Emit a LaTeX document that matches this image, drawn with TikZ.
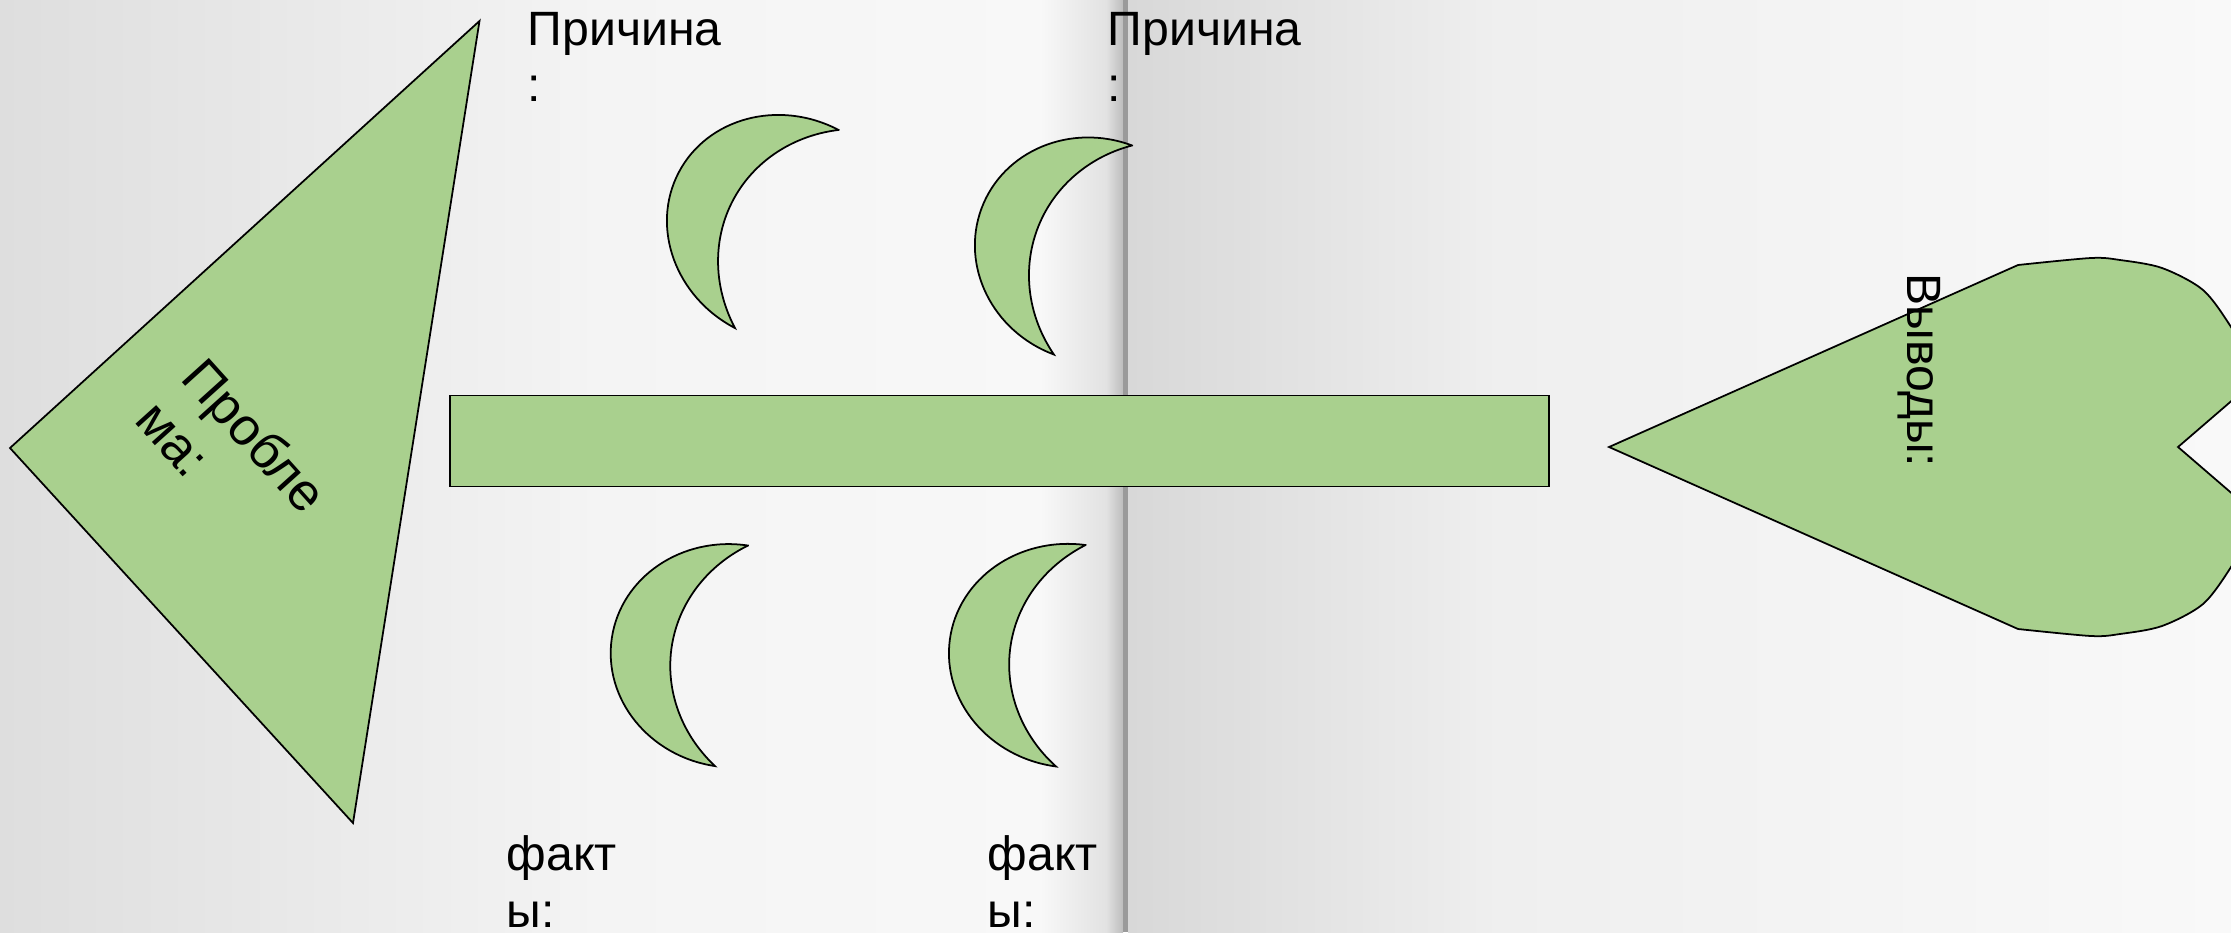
\documentclass[tikz,border=0pt]{standalone}
\usepackage{fontspec}
\setmainfont{Liberation Sans}
\definecolor{leaf}{HTML}{A9D08E}
\definecolor{pgA}{HTML}{DEDEDE}
\definecolor{pgB}{HTML}{F4F4F4}
\definecolor{pgC}{HTML}{F8F8F8}
\definecolor{pgD}{HTML}{E2E2E2}
\definecolor{pgE}{HTML}{BDBDBD}
\definecolor{foldc}{HTML}{9A9A9A}
\definecolor{rpA}{HTML}{D8D8D8}
\definecolor{rpB}{HTML}{EFEFEF}
\definecolor{rpC}{HTML}{F9F9F9}
\begin{document}
\begin{tikzpicture}[x=0.01cm,y=0.01cm,
  shapefill/.style={fill=leaf, draw=black, line width=0.5pt, line join=miter},
  lbl/.style={inner sep=0pt, anchor=base west, font=\fontsize{13.7pt}{16.4pt}\selectfont},
  biglbl/.style={inner sep=0pt, anchor=base west, font=\fontsize{15pt}{18pt}\selectfont, rotate=-48},
  moonshape/.style n args={2}{insert path={(0,#2) arc[start angle=90, end angle=270, x radius=#1, y radius=#2]
     arc[start angle=233.13, end angle=126.87, x radius=1.25*#1, y radius=1.25*#2] -- cycle}}]
\useasboundingbox (0,0) rectangle (2231,932);
\clip (0,0) rectangle (2231,932);
% background pages
\shade[left color=pgA, right color=pgB] (0,0) rectangle (600,932);
\shade[left color=pgB, right color=pgC] (600,0) rectangle (1040,932);
\shade[left color=pgC, right color=pgD] (1040,0) rectangle (1106,932);
\shade[left color=pgD, right color=pgE] (1106,0) rectangle (1123,932);
\fill[foldc] (1123,0) rectangle (1128,932);
\shade[left color=rpA, right color=rpB] (1128,0) rectangle (1500,932);
\shade[left color=rpB, right color=rpC] (1500,0) rectangle (2231,932);
% head triangle
\draw[shapefill] (479.5,911) -- (10,484) -- (353,109) -- cycle;
% spine
\draw[shapefill] (450,445.4) rectangle (1549,536.5);
% heart (tail)
\draw[shapefill] (1609,485) -- (2018,667)
  -- plot[smooth, tension=0.5] coordinates {(2018,667) (2091,674) (2120,672) (2162,664) (2203,642) (2231,605) (2252,566) (2236,535)}
  -- (2178,485) -- (2236,435)
  -- plot[smooth, tension=0.5] coordinates {(2236,435) (2252,404) (2231,365) (2203,328) (2162,306) (2120,298) (2091,296) (2018,303)}
  -- cycle;
% crescents
\begin{scope}[shift={(786.8,703)}, rotate=-27.6]
\draw[shapefill, moonshape={122}{111.8}];
\end{scope}
\begin{scope}[shift={(1093,682)}, rotate=-20.5]
\draw[shapefill, moonshape={119}{111.6}];
\end{scope}
\begin{scope}[shift={(731.5,276.2)}, rotate=-8.5]
\draw[shapefill, moonshape={121}{111.5}];
\end{scope}
\begin{scope}[shift={(1070.75,276.25)}, rotate=-7.6]
\draw[shapefill, moonshape={122}{111.7}];
\end{scope}
% labels
\node[biglbl] (prob1) at (179,553.3) {Пробле};
\node[biglbl] (prob2) at (132.6,511.5) {ма:};
\node[lbl] (cause1a) at (527,887) {Причина};
\node[lbl] (cause1b) at (527,831) {:};
\node[lbl] (cause2a) at (1107,887) {Причина};
\node[lbl] (cause2b) at (1107,831) {:};
\node[lbl] (fact1a) at (506,62) {факт};
\node[lbl] (fact1b) at (506,5) {ы:};
\node[lbl] (fact2a) at (987,62) {факт};
\node[lbl] (fact2b) at (987,5) {ы:};
\node[lbl, rotate=-90] (concl) at (1907,659) {Выводы:};
\end{tikzpicture}
\end{document}
